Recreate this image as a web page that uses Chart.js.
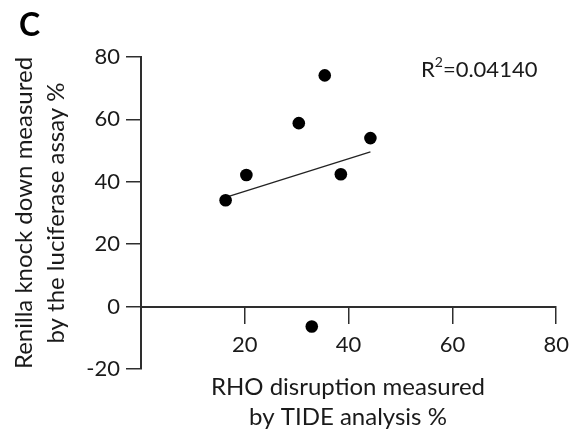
<!DOCTYPE html>
<html><head><meta charset="utf-8">
<script src="https://cdn.jsdelivr.net/npm/chart.js@4"></script>
<style>html,body{margin:0;padding:0;background:#fff}#wrap{width:578px;height:437px}</style>
</head><body><div id="wrap"><canvas id="c" width="578" height="437"></canvas></div>
<script>
// ---- data ----
const tideX = [16.3, 20.3, 30.4, 32.9, 35.4, 38.5, 44.2];
const lucY  = [34.1, 42.2, 58.8, -6.4, 74.1, 42.4, 54.0];
const fitX  = [16.3, 44.2];
const fitY  = [35.0, 49.6];
const xTicks = [20, 40, 60, 80];
const yTicks = [-20, 0, 20, 40, 60, 80];
const panelLabel = 'C';
const xTitle = ['RHO disruption measured', 'by TIDE analysis %'];
const yTitle = ['Renilla knock down measured', 'by the luciferase assay %'];
const rSquaredLabel = 'R';
const rSquaredSup = '2';
const rSquaredValue = '=0.04140';

const FONT = 'Lato, "Noto Sans", sans-serif';
const TXT = '#1a1a1a';
const AX = '#2e2e2e';

const textPlugin = {
  id: 'texts',
  afterDraw(chart) {
    const ctx = chart.ctx, ca = chart.chartArea;
    ctx.save();
    ctx.fillStyle = '#000';
    ctx.textAlign = 'left';
    ctx.textBaseline = 'alphabetic';
    ctx.font = 'bold 32px ' + FONT;
    ctx.fillText(panelLabel, 19, 36);

    ctx.fillStyle = TXT;
    ctx.font = '24px ' + FONT;
    ctx.textAlign = 'center';
    ctx.fillText(xTitle[0], 348, 395);
    ctx.fillText(xTitle[1], 348, 425);

    const cy = (ca.top + ca.bottom) / 2;
    ctx.save();
    ctx.translate(32, cy);
    ctx.rotate(-Math.PI / 2);
    ctx.fillText(yTitle[0], 0, 0);
    ctx.restore();
    ctx.save();
    ctx.translate(64, cy);
    ctx.rotate(-Math.PI / 2);
    ctx.fillText(yTitle[1], 0, 0);
    ctx.restore();

    ctx.textAlign = 'left';
    ctx.font = '22px ' + FONT;
    let x = 421;
    ctx.fillText(rSquaredLabel, x, 77);
    x += ctx.measureText(rSquaredLabel).width;
    ctx.font = '14px ' + FONT;
    ctx.fillText(rSquaredSup, x, 67);
    x += ctx.measureText(rSquaredSup).width;
    ctx.font = '22px ' + FONT;
    ctx.fillText(rSquaredValue, x, 77);
    ctx.restore();
  }
};

new Chart(document.getElementById('c'), {
  type: 'scatter',
  data: {
    datasets: [
      {
        data: tideX.map((v, i) => ({x: v, y: lucY[i]})),
        pointRadius: 6.3,
        pointHoverRadius: 6.3,
        backgroundColor: '#000',
        borderWidth: 0,
        order: 1
      },
      {
        type: 'line',
        data: fitX.map((v, i) => ({x: v, y: fitY[i]})),
        borderColor: '#222',
        borderWidth: 1.3,
        pointRadius: 0,
        fill: false,
        order: 2
      }
    ]
  },
  options: {
    responsive: false,
    animation: false,
    devicePixelRatio: 1,
    layout: {padding: {left: 0, top: 57, right: 20, bottom: 68}},
    plugins: {legend: {display: false}, tooltip: {enabled: false}, title: {display: false}},
    scales: {
      x: {
        type: 'linear', min: 0, max: 80,
        position: {y: 0},
        afterBuildTicks: s => { s.ticks = xTicks.map(v => ({value: v})); },
        grid: {drawOnChartArea: false, drawTicks: true, tickLength: 16, color: AX, lineWidth: 1.5},
        border: {display: true, color: AX, width: 2},
        ticks: {color: TXT, font: {family: FONT, size: 22}, padding: 9, maxRotation: 0}
      },
      y: {
        type: 'linear', min: -20, max: 80,
        position: 'left',
        afterBuildTicks: s => { s.ticks = yTicks.map(v => ({value: v})); },
        afterFit: s => { s.width = 141; },
        grid: {drawOnChartArea: false, drawTicks: true, tickLength: 15, color: AX, lineWidth: 1.5},
        border: {display: true, color: AX, width: 2},
        ticks: {color: TXT, font: {family: FONT, size: 22}, padding: 6}
      }
    }
  },
  plugins: [textPlugin]
});
</script>
</body></html>
